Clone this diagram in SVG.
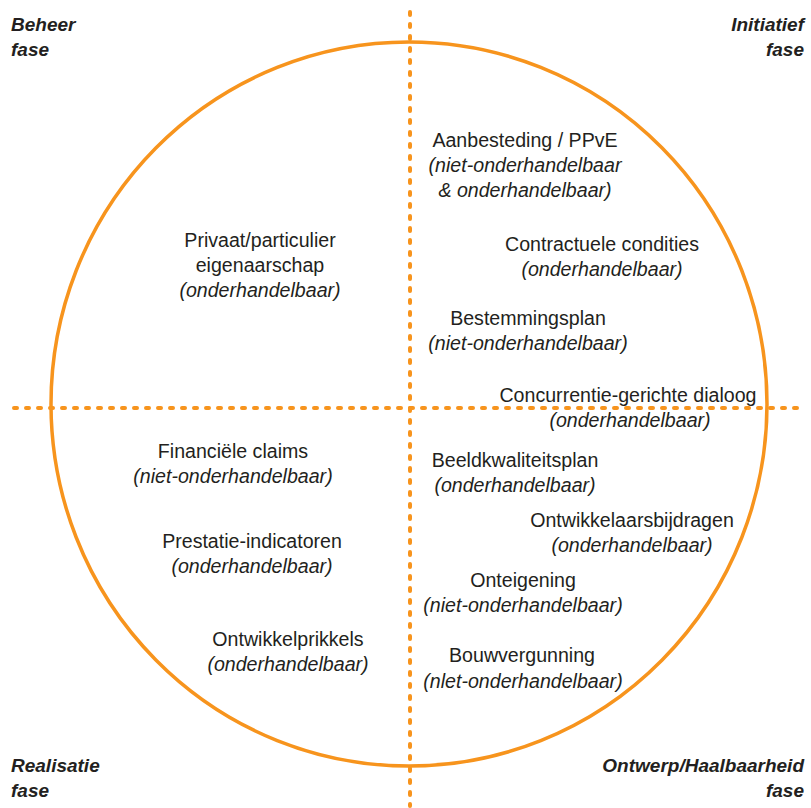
<svg xmlns="http://www.w3.org/2000/svg" width="811" height="808" viewBox="0 0 811 808">
<style>
.bg{fill:#ffffff}
.ring{fill:none;stroke:#F7941D;stroke-width:3.5}
.axis{fill:none;stroke:#F7941D;stroke-width:4;stroke-dasharray:3 9;stroke-linecap:round}
text{font-family:"Liberation Sans",Arial,sans-serif;fill:#231F20;font-size:19.6px}
.c{text-anchor:middle}
.i{font-style:italic}
.ph{font-weight:bold;font-style:italic;font-size:19px}
.r{text-anchor:end}
</style>
<rect class="bg" x="0" y="0" width="811" height="808"/>
<g id="connectors">
<ellipse class="ring" cx="409" cy="404" rx="358" ry="362"/>
<line class="axis" x1="410" y1="12" x2="410" y2="806"/>
<line class="axis" x1="14" y1="408" x2="806" y2="408"/>
</g>
<g id="phase-beheer"><text class="ph" x="11" y="31">Beheer</text><text class="ph" x="11" y="56">fase</text></g>
<g id="phase-initiatief"><text class="ph r" x="804" y="31">Initiatief</text><text class="ph r" x="804" y="56">fase</text></g>
<g id="phase-realisatie"><text class="ph" x="11" y="772">Realisatie</text><text class="ph" x="11" y="797">fase</text></g>
<g id="phase-ontwerp"><text class="ph r" x="804" y="772">Ontwerp/Haalbaarheid</text><text class="ph r" x="804" y="797">fase</text></g>
<g id="aanbesteding"><text class="c" x="525" y="147">Aanbesteding / PPvE</text><text class="c i" x="525" y="172">(niet-onderhandelbaar</text><text class="c i" x="525" y="197">&amp; onderhandelbaar)</text></g>
<g id="contractuele"><text class="c" x="602" y="251">Contractuele condities</text><text class="c i" x="602" y="276">(onderhandelbaar)</text></g>
<g id="bestemmingsplan"><text class="c" x="528" y="325">Bestemmingsplan</text><text class="c i" x="528" y="350">(niet-onderhandelbaar)</text></g>
<g id="privaat"><text class="c" x="260" y="247">Privaat/particulier</text><text class="c" x="260" y="272">eigenaarschap</text><text class="c i" x="260" y="297">(onderhandelbaar)</text></g>
<g id="concurrentie"><text class="c" x="628" y="402">Concurrentie-gerichte dialoog</text><text class="c i" x="630" y="427">(onderhandelbaar)</text></g>
<g id="financiele"><text class="c" x="233" y="458">Financiële claims</text><text class="c i" x="233" y="483">(niet-onderhandelbaar)</text></g>
<g id="prestatie"><text class="c" x="252" y="548">Prestatie-indicatoren</text><text class="c i" x="252" y="573">(onderhandelbaar)</text></g>
<g id="ontwikkelprikkels"><text class="c" x="288" y="646">Ontwikkelprikkels</text><text class="c i" x="288" y="671">(onderhandelbaar)</text></g>
<g id="beeldkwaliteit"><text class="c" x="515" y="467">Beeldkwaliteitsplan</text><text class="c i" x="515" y="492">(onderhandelbaar)</text></g>
<g id="ontwikkelaars"><text class="c" x="632" y="527">Ontwikkelaarsbijdragen</text><text class="c i" x="632" y="552">(onderhandelbaar)</text></g>
<g id="onteigening"><text class="c" x="523" y="587">Onteigening</text><text class="c i" x="523" y="612">(niet-onderhandelbaar)</text></g>
<g id="bouwvergunning"><text class="c" x="522" y="662">Bouwvergunning</text><text class="c i" x="523" y="688">(nlet-onderhandelbaar)</text></g>
</svg>
